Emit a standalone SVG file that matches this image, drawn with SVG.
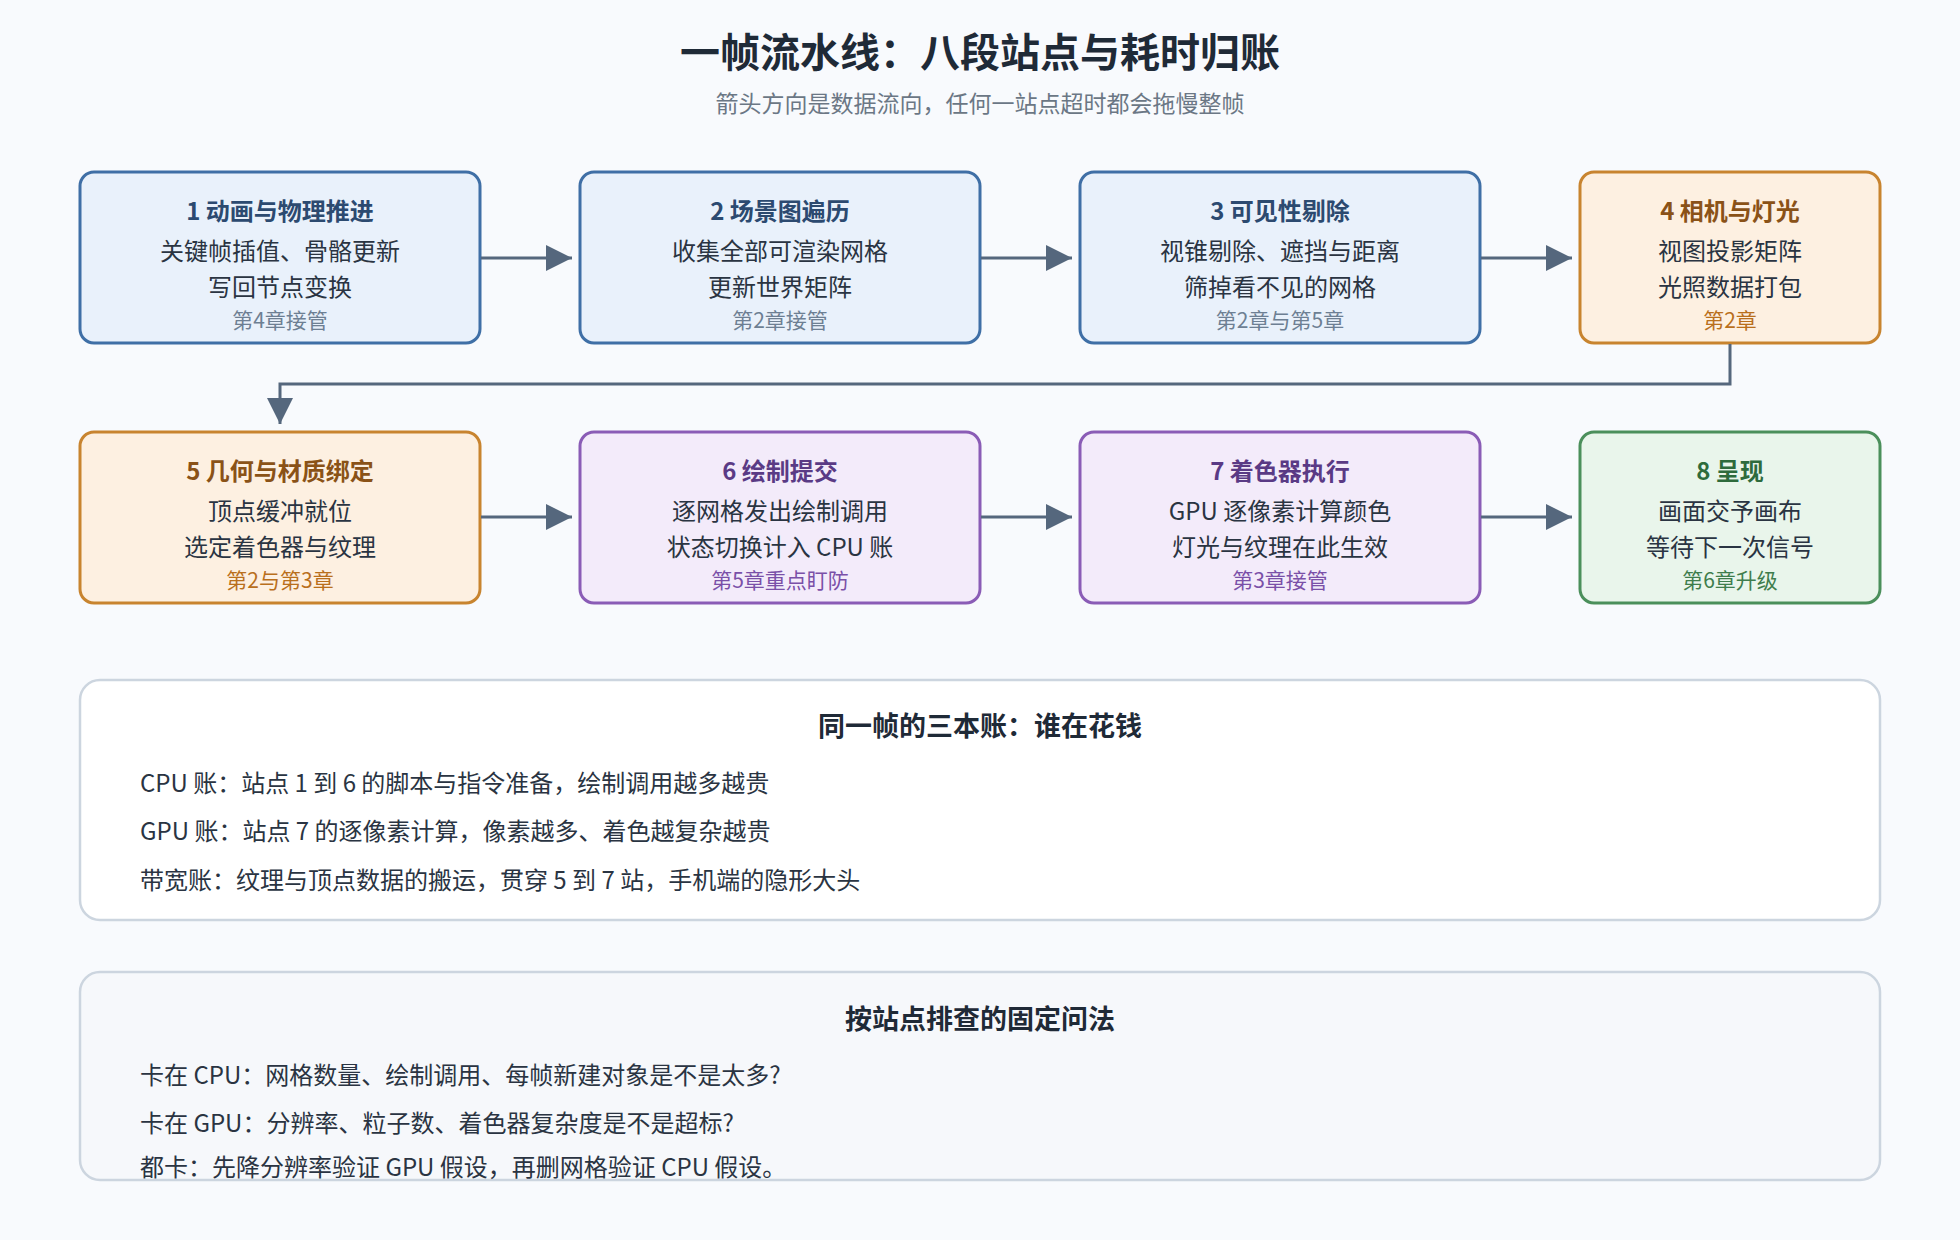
<svg xmlns="http://www.w3.org/2000/svg" width="1960" height="1240" viewBox="0 0 1960 1240">
<defs>
<marker id="a" viewBox="0 0 10 10" refX="10" refY="5" markerWidth="26" markerHeight="26" markerUnits="userSpaceOnUse" orient="auto"><path d="M0,0 L10,5 L0,10 z" fill="#55677d"/></marker>
</defs>
<style>
text{font-family:"Noto Sans CJK SC","Noto Sans",sans-serif;text-anchor:middle}
.t{font-size:24px;font-weight:bold}
.b{font-size:24px;fill:#2a3442}
.c{font-size:21px}
.blue rect{fill:#e9f1fb;stroke:#3f6fa6;stroke-width:3}
.blue .t{fill:#2c4a70}.blue .c{fill:#6d7f93}
.org rect{fill:#fdf0e1;stroke:#c8842f;stroke-width:3}
.org .t{fill:#8a5217}.org .c{fill:#b96f1c}
.pur rect{fill:#f3ebfa;stroke:#8a5cb6;stroke-width:3}
.pur .t{fill:#5a3a85}.pur .c{fill:#7a50a8}
.grn rect{fill:#e9f5eb;stroke:#4b8f5b;stroke-width:3}
.grn .t{fill:#2e6b3c}.grn .c{fill:#3f7d4d}
.conn path{fill:none;stroke:#55677d;stroke-width:3;marker-end:url(#a)}
.pt{font-size:27px;font-weight:bold;fill:#1f2a37}
.pl{font-size:24px;fill:#2a3442;text-anchor:start}
</style>
<rect width="1960" height="1240" fill="#f8fafd"/>
<text x="980" y="67" style="font-size:40px;font-weight:bold;fill:#1f2a37">一帧流水线：八段站点与耗时归账</text>
<text x="980" y="112" style="font-size:23px;fill:#6b7785">箭头方向是数据流向，任何一站点超时都会拖慢整帧</text>

<g id="n1" class="blue"><rect x="80" y="172" width="400" height="171" rx="14"/><text class="t" x="280" y="220">1 动画与物理推进</text><text class="b" x="280" y="260">关键帧插值、骨骼更新</text><text class="b" x="280" y="296">写回节点变换</text><text class="c" x="280" y="328">第4章接管</text></g>
<g id="n2" class="blue"><rect x="580" y="172" width="400" height="171" rx="14"/><text class="t" x="780" y="220">2 场景图遍历</text><text class="b" x="780" y="260">收集全部可渲染网格</text><text class="b" x="780" y="296">更新世界矩阵</text><text class="c" x="780" y="328">第2章接管</text></g>
<g id="n3" class="blue"><rect x="1080" y="172" width="400" height="171" rx="14"/><text class="t" x="1280" y="220">3 可见性剔除</text><text class="b" x="1280" y="260">视锥剔除、遮挡与距离</text><text class="b" x="1280" y="296">筛掉看不见的网格</text><text class="c" x="1280" y="328">第2章与第5章</text></g>
<g id="n4" class="org"><rect x="1580" y="172" width="300" height="171" rx="14"/><text class="t" x="1730" y="220">4 相机与灯光</text><text class="b" x="1730" y="260">视图投影矩阵</text><text class="b" x="1730" y="296">光照数据打包</text><text class="c" x="1730" y="328">第2章</text></g>

<g id="n5" class="org"><rect x="80" y="432" width="400" height="171" rx="14"/><text class="t" x="280" y="480">5 几何与材质绑定</text><text class="b" x="280" y="520">顶点缓冲就位</text><text class="b" x="280" y="556">选定着色器与纹理</text><text class="c" x="280" y="588">第2与第3章</text></g>
<g id="n6" class="pur"><rect x="580" y="432" width="400" height="171" rx="14"/><text class="t" x="780" y="480">6 绘制提交</text><text class="b" x="780" y="520">逐网格发出绘制调用</text><text class="b" x="780" y="556">状态切换计入 CPU 账</text><text class="c" x="780" y="588">第5章重点盯防</text></g>
<g id="n7" class="pur"><rect x="1080" y="432" width="400" height="171" rx="14"/><text class="t" x="1280" y="480">7 着色器执行</text><text class="b" x="1280" y="520">GPU 逐像素计算颜色</text><text class="b" x="1280" y="556">灯光与纹理在此生效</text><text class="c" x="1280" y="588">第3章接管</text></g>
<g id="n8" class="grn"><rect x="1580" y="432" width="300" height="171" rx="14"/><text class="t" x="1730" y="480">8 呈现</text><text class="b" x="1730" y="520">画面交予画布</text><text class="b" x="1730" y="556">等待下一次信号</text><text class="c" x="1730" y="588">第6章升级</text></g>

<g id="connectors" class="conn">
<path d="M481,258 H572"/>
<path d="M981,258 H1072"/>
<path d="M1481,258 H1572"/>
<path d="M1730,344 V384 H280 V424"/>
<path d="M481,517 H572"/>
<path d="M981,517 H1072"/>
<path d="M1481,517 H1572"/>
</g>

<g id="panel1"><rect x="80" y="680" width="1800" height="240" rx="20" fill="#ffffff" stroke="#ccd5df" stroke-width="2.5"/>
<text class="pt" x="980" y="736">同一帧的三本账：谁在花钱</text>
<text class="pl" x="140" y="792">CPU 账：站点 1 到 6 的脚本与指令准备，绘制调用越多越贵</text>
<text class="pl" x="140" y="840">GPU 账：站点 7 的逐像素计算，像素越多、着色越复杂越贵</text>
<text class="pl" x="140" y="889">带宽账：纹理与顶点数据的搬运，贯穿 5 到 7 站，手机端的隐形大头</text></g>

<g id="panel2"><rect x="80" y="972" width="1800" height="208" rx="20" fill="#f6f8fb" stroke="#ccd5df" stroke-width="2.5"/>
<text class="pt" x="980" y="1029">按站点排查的固定问法</text>
<text class="pl" x="140" y="1084">卡在 CPU：网格数量、绘制调用、每帧新建对象是不是太多?</text>
<text class="pl" x="140" y="1132">卡在 GPU：分辨率、粒子数、着色器复杂度是不是超标?</text>
<text class="pl" x="140" y="1176">都卡：先降分辨率验证 GPU 假设，再删网格验证 CPU 假设。</text></g>
</svg>
